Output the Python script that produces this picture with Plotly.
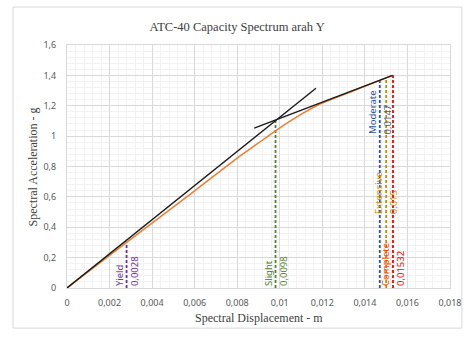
import plotly.graph_objects as go

# Capacity curve (orange)
cap_x = [0, 0.0028, 0.006, 0.008, 0.009, 0.0098, 0.0105, 0.0112, 0.0118, 0.0125, 0.0135, 0.0153]
cap_y = [0, 0.30, 0.64, 0.855, 0.955, 1.035, 1.10, 1.16, 1.205, 1.245, 1.30, 1.40]

# Bilinear lines (black)
lin1_x = [0, 0.0117]
lin1_y = [0, 1.315]
lin2_x = [0.0088, 0.0153]
lin2_y = [1.053, 1.40]

# Performance levels
lvl_names = ["Yield", "Slight", "Moderate", "Extensive", "Complete"]
lvl_x = [0.0028, 0.0098, 0.0147, 0.015, 0.01532]
lvl_text = ["0,0028", "0,0098", "0,0147", "0,015", "0,01532"]
lvl_top = [0.30, 1.10, 1.37, 1.385, 1.41]
lvl_label_y = [0.0, 0.0, 1.0, 0.47, 0.0]
lvl_colors = ["#7030A0", "#548235", "#2F5597", "#BF9000", "#FF0000"]
lvl_name_colors = ["#7030A0", "#548235", "#2F5597", "#BF9000", "#FF4000"]
lvl_val_colors = ["#7030A0", "#548235", "#4A5C7A", "#BF9000", "#FF0000"]

x_ticks = [0, 0.002, 0.004, 0.006, 0.008, 0.010, 0.012, 0.014, 0.016, 0.018]
x_tick_text = ["0", "0,002", "0,004", "0,006", "0,008", "0,01", "0,012", "0,014", "0,016", "0,018"]
y_ticks = [0, 0.2, 0.4, 0.6, 0.8, 1.0, 1.2, 1.4, 1.6]
y_tick_text = ["0", "0,2", "0,4", "0,6", "0,8", "1", "1,2", "1,4", "1,6"]

fig = go.Figure()

for i in range(len(lvl_names)):
    fig.add_trace(go.Scatter(x=[lvl_x[i], lvl_x[i]], y=[0, lvl_top[i]], mode="lines",
                             line=dict(color=lvl_colors[i], width=1.8, dash="3px,2px"),
                             showlegend=False, hoverinfo="skip"))

fig.add_trace(go.Scatter(x=cap_x, y=cap_y, mode="lines", line=dict(color="#ED7D31", width=1.5, shape="spline", smoothing=0.6),
                         showlegend=False))
fig.add_trace(go.Scatter(x=lin1_x, y=lin1_y, mode="lines", line=dict(color="#1A1A1A", width=1.4),
                         showlegend=False))
fig.add_trace(go.Scatter(x=lin2_x, y=lin2_y, mode="lines", line=dict(color="#1A1A1A", width=1.4),
                         showlegend=False))

lab_font = "Noto Sans"
for i in range(len(lvl_names)):
    fig.add_annotation(x=lvl_x[i], y=lvl_label_y[i], text=lvl_names[i], textangle=-90,
                       showarrow=False, xanchor="right", yanchor="bottom", xshift=1,
                       font=dict(family=lab_font, size=9.5, color=lvl_name_colors[i]))
    fig.add_annotation(x=lvl_x[i], y=lvl_label_y[i], text=lvl_text[i], textangle=-90,
                       showarrow=False, xanchor="left", yanchor="bottom", xshift=-1,
                       font=dict(family=lab_font, size=9.5, color=lvl_val_colors[i]))

# axis titles
fig.add_annotation(x=0.5, y=-0.125, xref="paper", yref="paper", text="Spectral Displacement - m",
                   showarrow=False, xanchor="center", yanchor="middle",
                   font=dict(family="Liberation Serif", size=12, color="#404040"))
fig.add_annotation(x=-0.089, y=0.5, xref="paper", yref="paper", text="Spectral Acceleration - g",
                   showarrow=False, textangle=-90, xanchor="center", yanchor="middle",
                   font=dict(family="Liberation Serif", size=12, color="#404040"))

# chart frame
fig.add_shape(type="rect", xref="paper", yref="paper", x0=-0.141, x1=1.031, y0=-0.165, y1=1.156,
              line=dict(color="#D9D9D9", width=1), fillcolor="rgba(0,0,0,0)", layer="below")

fig.update_layout(
    width=465, height=338, autosize=False,
    margin=dict(l=67, r=15, t=45, b=50, autoexpand=False),
    paper_bgcolor="white", plot_bgcolor="white",
    title=dict(text="ATC-40 Capacity Spectrum arah Y", x=0.51, xref="container", xanchor="center",
               y=0.92, yref="container", yanchor="middle",
               font=dict(family="Liberation Serif", size=12.5, color="#404040")),
    xaxis=dict(range=[0, 0.018], tickvals=x_ticks, ticktext=x_tick_text,
               showgrid=True, gridcolor="#D9D9D9", gridwidth=1, zeroline=False,
               showline=True, linecolor="#D9D9D9", mirror=True, ticks="", ticklabelstandoff=6,
               automargin=False,
               tickfont=dict(family=lab_font, size=9, color="#595959"),
               minor=dict(dtick=0.0004, tick0=0, showgrid=True, gridcolor="#F2F2F2", gridwidth=1)),
    yaxis=dict(range=[0, 1.6], tickvals=y_ticks, ticktext=y_tick_text,
               showgrid=True, gridcolor="#D9D9D9", gridwidth=1, zeroline=False,
               showline=True, linecolor="#D9D9D9", mirror=True, ticks="", ticklabelstandoff=8,
               automargin=False,
               tickfont=dict(family=lab_font, size=9, color="#595959"),
               minor=dict(dtick=0.04, tick0=0, showgrid=True, gridcolor="#F2F2F2", gridwidth=1)),
)

fig.write_html("out.html", config={"responsive": False, "displayModeBar": False})
